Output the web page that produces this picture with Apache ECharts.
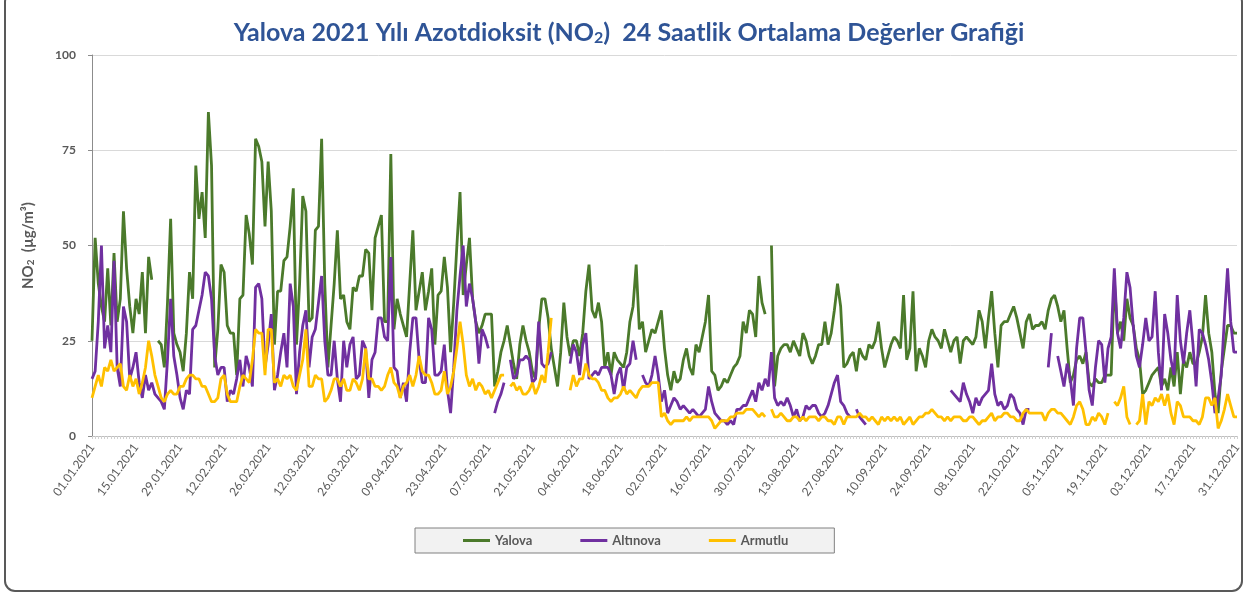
<!DOCTYPE html>
<html>
<head>
<meta charset="utf-8">
<script src="https://cdn.jsdelivr.net/npm/echarts@6/dist/echarts.min.js"></script>
<style>
  html, body { margin: 0; padding: 0; background: #fff; }
  #main { width: 1258px; height: 595px; }
</style>
</head>
<body>
<div id="main"></div>
<script>
// gunluk tarih etiketleri (01.01.2021 - 31.12.2021)
var days = [];
for (var i = 0; i < 365; i++) {
  var d = new Date(2021, 0, 1 + i);
  var dd = ("0" + d.getDate()).slice(-2);
  var mm = ("0" + (d.getMonth() + 1)).slice(-2);
  days.push(dd + "." + mm + ".2021");
}

var seriesNames = ["Yalova", "Altınova", "Armutlu"];

// Yalova istasyonu (µg/m³), okunan degerler
var yalova = [
  25,52,40,34,30,44,29,48,30,36,
  59,44,34,27,36,32,43,27,47,41,
  null,25,24,18,35,57,27,24,22,17,
  27,43,36,71,57,64,52,85,71,18,
  28,45,43,29,27,27,16,36,37,58,
  53,45,78,76,72,55,72,59,24,38,
  38,46,47,55,65,24,40,63,59,30,
  31,54,55,78,40,18,29,40,54,36,
  37,30,28,39,38,42,42,49,48,33,
  52,55,58,30,30,74,28,36,32,29,
  26,40,54,33,38,43,33,38,44,24,
  37,38,47,39,22,35,50,64,37,45,
  52,36,30,27,29,32,32,32,13,17,
  22,25,29,24,19,15,24,29,25,22,
  17,15,28,36,36,31,23,18,13,22,
  35,26,21,25,25,21,27,38,45,33,
  31,35,30,18,22,16,22,20,19,18,
  22,30,34,45,28,30,22,25,28,27,
  30,33,23,16,12,17,14,15,20,23,
  18,16,24,22,26,30,37,17,16,12,
  13,15,14,16,18,19,21,30,27,33,
  32,26,42,35,32,null,50,13,21,23,
  24,24,22,25,23,21,27,25,21,19,
  21,24,24,30,24,27,33,40,34,18,
  19,21,22,17,23,21,20,24,23,25,
  30,23,18,21,24,26,25,23,37,20,
  23,38,17,23,21,18,25,28,26,25,
  23,28,25,22,25,26,19,25,26,25,
  24,26,33,30,23,31,38,27,18,29,
  30,30,32,34,31,27,23,30,32,28,
  29,29,30,28,33,36,37,34,30,33,
  23,14,16,20,21,19,22,14,13,15,
  14,14,16,16,16,41,27,30,25,36,
  31,29,23,20,11,12,14,16,17,18,
  13,15,12,18,13,22,11,20,18,22,
  19,19,22,26,37,27,22,11,6,17,
  23,29,29,27,27
];

// Altinova istasyonu
var altinova = [
  15,17,30,50,23,29,22,46,18,13,
  34,30,15,18,22,14,10,16,12,14,
  11,10,9,7,20,36,21,16,10,7,
  12,11,28,29,33,37,43,42,36,21,
  16,18,18,9,12,11,15,20,13,21,
  18,13,39,40,36,18,24,32,12,16,
  22,27,18,40,34,11,22,29,33,18,
  26,28,35,42,25,16,16,25,15,9,
  25,18,24,26,15,16,25,23,10,20,
  22,31,31,26,25,47,18,17,10,14,
  9,22,31,31,20,14,14,31,28,16,
  16,17,24,12,6,18,33,42,50,34,
  40,36,30,19,28,26,23,null,6,9,
  11,14,null,20,15,16,20,20,21,20,
  14,15,30,19,18,19,22,null,null,null,
  null,null,19,24,22,16,24,27,15,16,
  17,16,18,18,18,16,11,16,18,12,
  18,19,25,20,null,16,14,13,16,21,
  16,9,12,6,8,10,9,7,8,7,
  6,7,6,5,6,7,13,9,6,5,
  4,4,3,4,3,7,7,8,8,10,
  12,9,14,12,15,13,22,10,8,9,
  8,10,8,5,7,4,5,8,7,8,
  8,6,5,6,8,11,14,16,9,8,
  6,5,null,7,5,4,3,null,null,null,
  null,null,null,null,null,null,null,null,null,null,
  null,null,null,null,null,null,null,null,null,null,
  null,null,null,12,11,10,9,14,11,9,
  6,10,8,10,11,12,19,11,8,9,
  7,8,11,10,7,6,3,7,7,null,
  null,null,null,null,18,27,null,21,17,13,
  19,15,8,23,31,31,22,12,8,18,
  25,24,14,23,26,44,27,23,31,43,
  39,29,21,18,24,31,25,26,38,22,
  12,32,27,20,16,37,25,19,27,33,
  24,13,28,27,24,20,14,6,10,16,
  31,44,30,22,22
];

// Armutlu istasyonu
var armutlu = [
  10,13,16,13,18,17,20,17,18,19,
  13,12,16,13,15,11,14,18,25,21,
  16,13,10,9,11,12,11,11,13,13,
  15,16,16,15,15,13,13,11,9,9,
  10,15,16,11,9,9,9,13,16,15,
  14,20,28,27,27,16,28,28,14,15,
  13,16,15,16,13,12,16,20,28,13,
  13,16,15,15,9,10,12,15,15,13,
  15,12,12,15,14,12,15,23,15,15,
  13,13,12,13,16,18,14,13,10,13,
  14,16,13,16,21,17,16,16,14,11,
  11,12,17,11,13,17,23,30,24,16,
  13,15,12,14,13,11,12,10,12,14,
  16,16,null,13,14,12,13,11,11,12,
  14,11,13,16,14,22,31,null,null,null,
  null,null,12,16,13,15,15,19,16,15,
  15,14,12,12,10,9,10,10,11,13,
  11,12,11,10,12,13,13,13,14,14,
  14,5,6,4,3,4,4,4,4,5,
  4,5,5,5,5,5,5,4,2,3,
  4,4,4,5,5,6,6,6,7,7,
  7,6,5,6,5,null,7,5,5,6,
  5,4,4,5,5,4,5,4,5,5,
  5,4,5,5,4,4,3,5,5,3,
  5,5,5,5,6,5,5,4,5,4,
  3,5,4,5,4,5,4,5,3,4,
  5,3,4,5,5,6,6,7,6,5,
  5,4,5,4,5,5,5,4,4,5,
  5,4,3,4,4,5,6,4,5,5,
  6,6,5,5,4,4,6,7,6,6,
  6,6,6,4,6,7,7,6,6,5,
  4,3,5,8,9,7,3,3,5,4,
  6,5,3,6,null,9,8,10,13,5,
  3,null,3,4,11,3,9,8,10,9,
  11,8,11,6,3,9,8,5,5,5,
  4,4,3,5,10,10,8,10,2,4,
  7,11,8,5,5
];

var yTicks = [0, 25, 50, 75, 100];
var colors = ["#4b7a2b", "#7030a0", "#ffc000"];

var myChart = echarts.init(document.getElementById("main"));

var option = {
  animation: false,
  backgroundColor: "#ffffff",
  textStyle: { fontFamily: "Lato" },
  title: {
    text: "Yalova 2021 Yılı Azotdioksit (NO{sub|2})  24 Saatlik Ortalama Değerler Grafiği",
    left: "center",
    top: 14,
    textStyle: {
      color: "#2f5496",
      fontSize: 25,
      fontWeight: "bold",
      fontFamily: "Lato",
      rich: {
        sub: {
          color: "#2f5496",
          fontSize: 16,
          fontWeight: "bold",
          fontFamily: "Lato",
          padding: [11, 0, 0, 0]
        }
      }
    }
  },
  graphic: [
    {
      type: "rect",
      shape: { x: 5, y: -8, width: 1237, height: 599, r: 10 },
      style: { fill: "none", stroke: "#595959", lineWidth: 2 },
      z: 100
    }
  ],
  legend: {
    data: seriesNames,
    left: 415,
    top: 528,
    padding: [6, 46, 6, 48],
    itemGap: 48,
    itemWidth: 27,
    itemHeight: 3,
    icon: "rect",
    backgroundColor: "#f2f2f2",
    borderColor: "#808080",
    borderWidth: 1,
    textStyle: { color: "#595959", fontSize: 13, fontWeight: "bold", fontFamily: "Lato" }
  },
  grid: {
    left: 92,
    right: 21,
    top: 55,
    bottom: 159,
    containLabel: false
  },
  xAxis: {
    type: "category",
    data: days,
    boundaryGap: false,
    axisLine: { lineStyle: { color: "#bfbfbf" } },
    axisTick: { show: true, interval: 0, length: 3, lineStyle: { color: "#d0d0d0" } },
    axisLabel: {
      interval: 13,
      rotate: 54,
      color: "#595959",
      fontSize: 12,
      fontFamily: "Lato",
      margin: 9
    },
    splitLine: { show: false }
  },
  yAxis: {
    type: "value",
    min: yTicks[0],
    max: yTicks[yTicks.length - 1],
    interval: 25,
    name: "NO{s|2}  (µg/m³)",
    nameLocation: "middle",
    nameGap: 56,
    nameRotate: 90,
    nameTextStyle: {
      color: "#595959",
      fontSize: 15,
      fontWeight: "bold",
      fontFamily: "Lato",
      rich: {
        s: { fontSize: 10, fontWeight: "bold", color: "#595959", padding: [6, 0, 0, 0] }
      }
    },
    axisLine: { show: true, lineStyle: { color: "#8c8c8c" } },
    axisTick: { show: true, length: 4, lineStyle: { color: "#8c8c8c" } },
    axisLabel: { color: "#595959", fontSize: 12, fontWeight: "bold", fontFamily: "Lato", margin: 16 },
    splitLine: { lineStyle: { color: "#d9d9d9" } }
  },
  series: [
    {
      name: seriesNames[0],
      type: "line",
      data: yalova,
      symbol: "none",
      connectNulls: false,
      lineStyle: { color: colors[0], width: 2.8 },
      itemStyle: { color: colors[0] }
    },
    {
      name: seriesNames[1],
      type: "line",
      data: altinova,
      symbol: "none",
      connectNulls: false,
      lineStyle: { color: colors[1], width: 2.8 },
      itemStyle: { color: colors[1] }
    },
    {
      name: seriesNames[2],
      type: "line",
      data: armutlu,
      symbol: "none",
      connectNulls: false,
      lineStyle: { color: colors[2], width: 2.8 },
      itemStyle: { color: colors[2] }
    }
  ]
};

myChart.setOption(option);
</script>
</body>
</html>
